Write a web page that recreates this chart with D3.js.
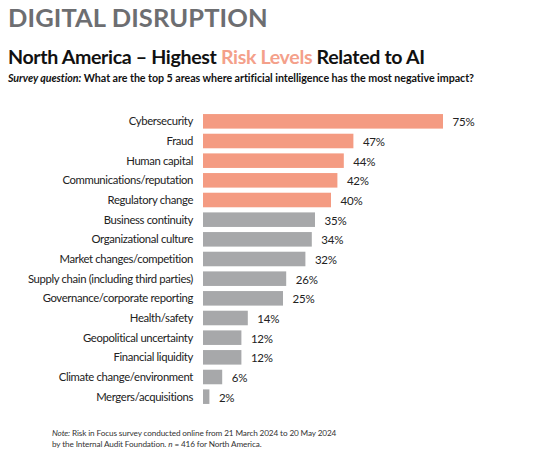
<!DOCTYPE html>
<html><head><meta charset="utf-8">
<script src="https://cdn.jsdelivr.net/npm/d3@7"></script>
<style>
body{margin:0;background:#fff;}
svg{display:block;font-family:Lato, "Open Sans", sans-serif;}
</style></head>
<body>
<svg id="chart" width="533" height="460"></svg>
<script>
const categories = ["Cybersecurity","Fraud","Human capital","Communications/reputation","Regulatory change","Business continuity","Organizational culture","Market changes/competition","Supply chain (including third parties)","Governance/corporate reporting","Health/safety","Geopolitical uncertainty","Financial liquidity","Climate change/environment","Mergers/acquisitions"];
const values = [75,47,44,42,40,35,34,32,26,25,14,12,12,6,2];
const highlighted = [true,true,true,true,true,false,false,false,false,false,false,false,false,false,false];

const svg = d3.select("#chart");
const x = d3.scaleLinear().domain([0,75]).range([203,443]);
const y = d3.scaleBand().domain(categories).range([111.5,406.5]).paddingInner(0.26).paddingOuter(0.13);

svg.append("text").attr("x",8).attr("y",27).attr("font-size",25.5).attr("font-weight",700)
  .attr("fill","#6d6e71").attr("letter-spacing",0.1).text("DIGITAL DISRUPTION");

const t = svg.append("text").attr("x",8).attr("y",64).attr("font-size",19.6).attr("font-weight",700)
  .attr("letter-spacing",-0.35).attr("fill","#111");
t.append("tspan").text("North America – Highest ");
t.append("tspan").attr("fill","#f4a08a").text("Risk Levels");
t.append("tspan").text(" Related to AI");

const s = svg.append("text").attr("x",8).attr("y",82).attr("font-size",10.7).attr("font-weight",700)
  .attr("letter-spacing",-0.05).attr("fill","#111");
s.append("tspan").attr("font-style","italic").text("Survey question:");
s.append("tspan").text(" What are the top 5 areas where artificial intelligence has the most negative impact?");

const rows = categories.map((c,i)=>({c, v:values[i], h:highlighted[i]}));

svg.selectAll("rect.bar").data(rows).join("rect").attr("class","bar")
  .attr("x",x(0)).attr("y",d=>y(d.c)).attr("height",y.bandwidth())
  .attr("width",d=>x(d.v)-x(0)).attr("fill",d=>d.h?"#f49b82":"#a7a8aa");

svg.selectAll("text.cat").data(rows).join("text").attr("class","cat")
  .attr("x",193).attr("y",d=>y(d.c)+y.bandwidth()/2).attr("dy","0.35em")
  .attr("text-anchor","end").attr("font-size",11.3).attr("letter-spacing",-0.35).attr("fill","#222").text(d=>d.c);

svg.selectAll("text.val").data(rows).join("text").attr("class","val")
  .attr("x",d=>x(d.v)+9.5).attr("y",d=>y(d.c)+y.bandwidth()/2+1).attr("dy","0.35em")
  .attr("font-size",11.5).attr("letter-spacing",-0.2).attr("fill","#222").text(d=>d.v+"%");

const n1 = svg.append("text").attr("x",52).attr("y",436).attr("font-size",8.2).attr("letter-spacing",-0.12).attr("fill","#333");
n1.append("tspan").attr("font-style","italic").text("Note:");
n1.append("tspan").text(" Risk in Focus survey conducted online from 21 March 2024 to 20 May 2024");
const n2 = svg.append("text").attr("x",52).attr("y",447).attr("font-size",8.2).attr("letter-spacing",-0.12).attr("fill","#333");
n2.append("tspan").text("by the Internal Audit Foundation. ");
n2.append("tspan").attr("font-style","italic").text("n");
n2.append("tspan").text(" = 416 for North America.");
</script>
</body></html>
